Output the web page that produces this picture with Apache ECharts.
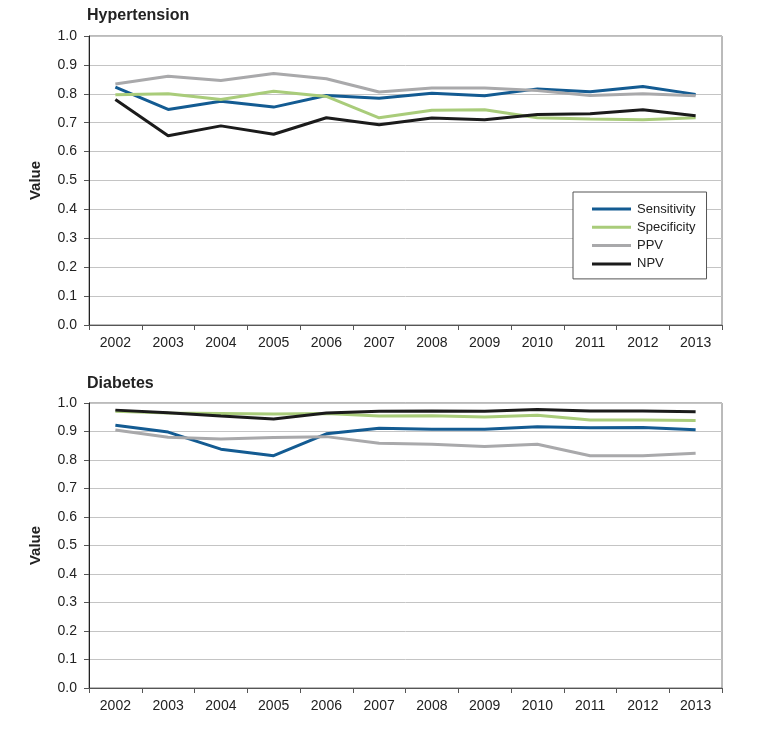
<!DOCTYPE html>
<html>
<head>
<meta charset="utf-8">
<script src="https://cdn.jsdelivr.net/npm/echarts@6/dist/echarts.min.js"></script>
<style>
html,body{margin:0;padding:0;background:#fff;}
#chart{width:764px;height:738px;}
</style>
</head>
<body>
<div id="chart"></div>
<script>
const years = ['2002','2003','2004','2005','2006','2007','2008','2009','2010','2011','2012','2013'];
const seriesNames = ['Sensitivity','Specificity','PPV','NPV'];
const seriesColors = ['#135b92','#a9cc7a','#a9a9ab','#1b1b1b'];

// Hypertension
const htSensitivity = [0.823,0.746,0.774,0.754,0.794,0.785,0.802,0.793,0.817,0.807,0.825,0.798];
const htSpecificity = [0.797,0.800,0.780,0.809,0.791,0.717,0.743,0.745,0.717,0.713,0.710,0.717];
const htPPV         = [0.834,0.861,0.846,0.870,0.852,0.806,0.820,0.820,0.811,0.794,0.800,0.793];
const htNPV         = [0.780,0.655,0.689,0.660,0.717,0.693,0.716,0.710,0.728,0.731,0.745,0.724];

// Diabetes
const dmSensitivity = [0.922,0.898,0.838,0.815,0.892,0.911,0.908,0.908,0.917,0.913,0.914,0.906];
const dmSpecificity = [0.971,0.965,0.963,0.961,0.963,0.954,0.955,0.951,0.957,0.940,0.940,0.939];
const dmPPV         = [0.905,0.880,0.874,0.879,0.882,0.859,0.855,0.847,0.855,0.815,0.815,0.824];
const dmNPV         = [0.975,0.966,0.954,0.944,0.965,0.971,0.972,0.971,0.977,0.972,0.972,0.969];

const htData = [htSensitivity, htSpecificity, htPPV, htNPV];
const dmData = [dmSensitivity, dmSpecificity, dmPPV, dmNPV];

const FONT = '"Liberation Sans", Arial, Helvetica, sans-serif';

function xAxis(gi){
  return {
    type:'category', gridIndex:gi, data:years, boundaryGap:true,
    axisLine:{show:true, lineStyle:{color:'#555', width:1}},
    axisTick:{show:true, inside:false, length:5, interval:0, lineStyle:{color:'#555'}},
    axisLabel:{color:'#222', fontSize:14, fontFamily:FONT, margin:11, interval:0},
    splitLine:{show:false}
  };
}
function yAxis(gi){
  return {
    type:'value', gridIndex:gi, min:0, max:1, interval:0.1,
    name:'Value', nameLocation:'middle', nameGap:46, nameRotate:90,
    nameTextStyle:{fontSize:15, fontWeight:'bold', color:'#222', fontFamily:FONT},
    axisLine:{show:true, lineStyle:{color:'#222', width:1}},
    axisTick:{show:true, inside:false, length:5, lineStyle:{color:'#555'}},
    axisLabel:{color:'#222', fontSize:14, fontFamily:FONT, margin:12, formatter:v=>v.toFixed(1)},
    splitLine:{show:true, lineStyle:{color:'#c4c4c4', width:1}}
  };
}

const series = [];
[htData, dmData].forEach((set, gi) => {
  set.forEach((arr, i) => {
    series.push({
      name: seriesNames[i], type:'line', xAxisIndex:gi, yAxisIndex:gi,
      data: arr, symbol:'none', smooth:false,
      lineStyle:{color:seriesColors[i], width:3},
      itemStyle:{color:seriesColors[i]},
      z: 3, animation:false
    });
  });
});

const chart = echarts.init(document.getElementById('chart'), null, {renderer:'canvas'});
chart.setOption({
  animation:false,
  backgroundColor:'#fff',
  title:[
    {text:'Hypertension', left:87, top:8, textStyle:{fontSize:16, fontWeight:'bold', color:'#222', fontFamily:FONT}, padding:0},
    {text:'Diabetes', left:87, top:376, textStyle:{fontSize:16, fontWeight:'bold', color:'#222', fontFamily:FONT}, padding:0}
  ],
  grid:[
    {left:89, right:42, top:36, height:289, show:true, borderColor:'#777', borderWidth:1, backgroundColor:'transparent'},
    {left:89, right:42, top:403, height:285, show:true, borderColor:'#777', borderWidth:1, backgroundColor:'transparent'}
  ],
  legend:{
    data: seriesNames,
    orient:'vertical', left:573, top:192,
    padding:[10,11,8,19],
    itemGap:4.3, itemWidth:39, itemHeight:3, icon:'rect',
    backgroundColor:'#fff', borderColor:'#555', borderWidth:1,
    textStyle:{fontSize:13, color:'#222', fontFamily:FONT, lineHeight:14, padding:[0,0,0,1]}
  },
  xAxis:[xAxis(0), xAxis(1)],
  yAxis:[yAxis(0), yAxis(1)],
  series
});
</script>
</body>
</html>
